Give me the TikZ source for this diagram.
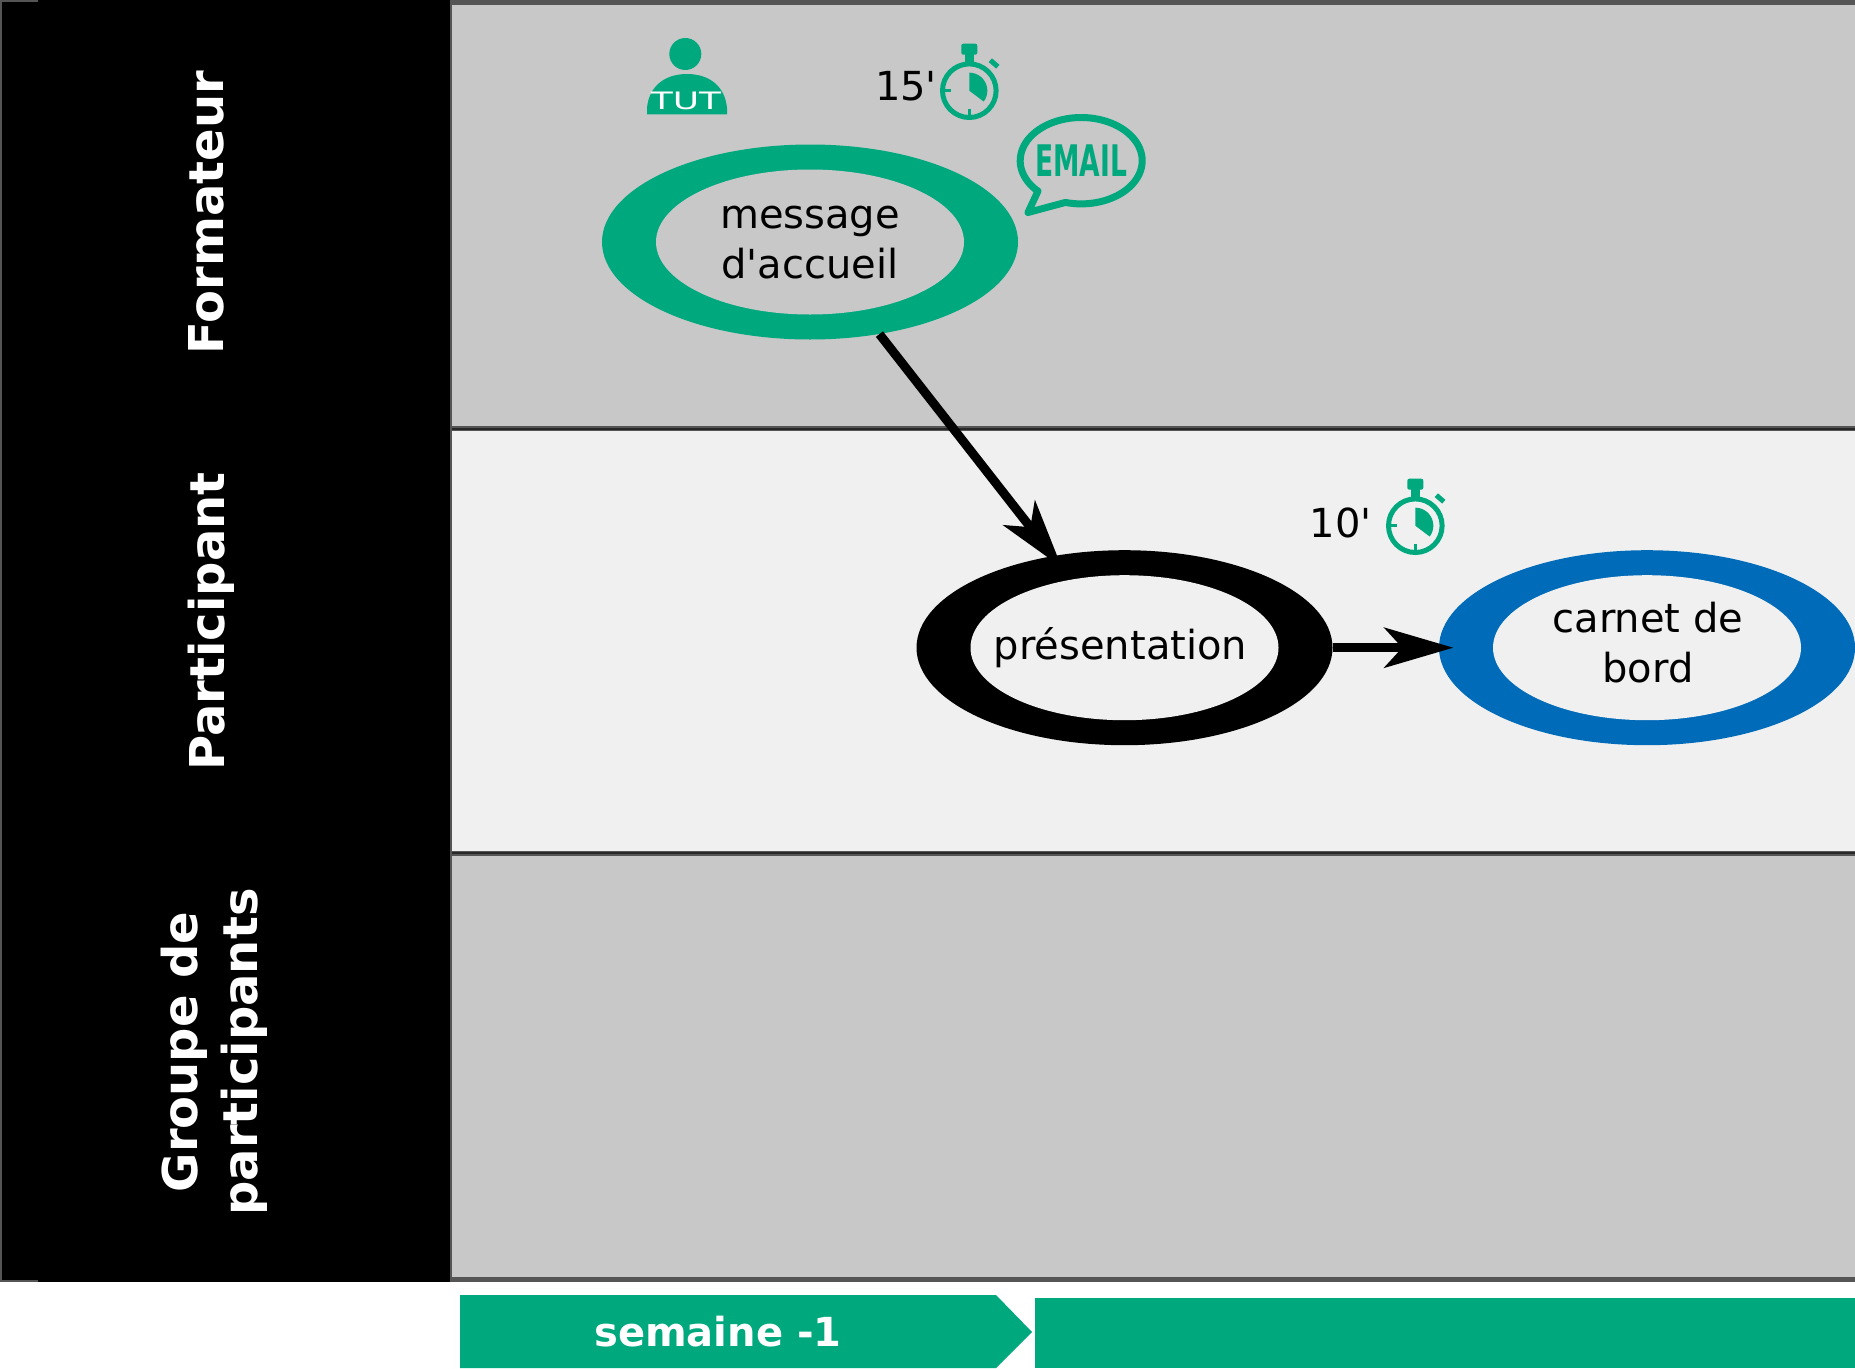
\documentclass[tikz,border=0pt]{standalone}
\usepackage{fontspec}
\setmainfont{DejaVu Sans}
\newfontfamily\plainquote{DejaVu Sans}
\usetikzlibrary{arrows.meta,shapes.geometric}
\definecolor{grn}{RGB}{0,168,126}
\definecolor{blu}{RGB}{0,107,185}
\definecolor{lanedark}{RGB}{200,200,200}
\definecolor{lanelight}{RGB}{240,240,240}
\definecolor{laneline}{RGB}{85,85,85}
\definecolor{lanecore}{RGB}{40,40,40}
\tikzset{
  lanerule/.style={draw=laneline,line width=5pt},
  lanecorerule/.style={draw=lanecore,line width=2pt},
  outerring/.style={ellipse,minimum width=416pt,minimum height=195pt,inner sep=0pt,draw=none},
  innerring/.style={ellipse,minimum width=308pt,minimum height=145pt,inner sep=0pt,draw=none},
  ringtext/.style={inner sep=0pt,align=center,font=\plainquote\fontsize{40}{50}\selectfont},
  sidelabel/.style={rotate=90,text=white,align=center,font=\fontsize{48}{60}\selectfont\bfseries},
  timelabel/.style={text=black,font=\plainquote\fontsize{40}{48}\selectfont},
  flow/.style={draw=black,-{Stealth[length=69pt,width=40pt,inset=18pt]}},
  stopwatch/.pic={
    \draw[grn,line width=5pt] (0,0) circle[radius=26.8pt];
    \fill[grn,rounded corners=2pt] (-8,-47) rectangle (8,-36);
    \fill[grn] (-4.5,-38) rectangle (4.5,-28);
    \draw[grn,line width=5pt] (21,-30.5) -- (28.5,-24);
    \draw[grn,line width=2.5pt] (-26,0) -- (-18,0);
    \draw[grn,line width=2.5pt] (0,26) -- (0,18);
    \fill[grn] (0,0) -- plot[domain=-90:37,samples=30,variable=\t] ({18*cos(\t)},{18*sin(\t)}) -- cycle;
  }
}
\begin{document}
\begin{tikzpicture}[x=1pt,y=-1pt]
\useasboundingbox (0,0) rectangle (1855,1368);
% lanes
\fill[white] (0,0) rectangle (1855,1368);
\fill[lanedark] (451,2) rectangle (1855,428.5);
\fill[lanelight] (451,428.5) rectangle (1855,853);
\fill[lanedark] (451,853) rectangle (1855,1279.5);
\draw[lanerule] (451,2.5) -- (1855,2.5);
\draw[lanerule] (451,428.5) -- (1855,428.5);
\draw[lanerule] (451,853) -- (1855,853);
\draw[lanerule] (451,1279.5) -- (1855,1279.5);
\draw[lanecorerule] (451,428.5) -- (1855,428.5);
\draw[lanecorerule] (451,853) -- (1855,853);
% side column
\path[fill=black,draw=laneline,line width=2pt] (1,1) rectangle (451,1281);
\fill[black] (38,0) rectangle (450,2);
\fill[black] (38,1280) rectangle (450,1282);
\node[sidelabel] (lf) at (206,212.5) {Formateur};
\node[sidelabel] (lp) at (211,621.5) {Participant};
\node[sidelabel] (lg) at (214,1052) {Groupe de\\participants};
% activities
\node[outerring,fill=grn] (msg) at (810,242) {};
\node[outerring,fill=black] (pres) at (1124.5,647.7) {};
\node[outerring,fill=blu] (car) at (1647,647.7) {};
\node[innerring,fill=lanedark] (msgi) at (msg) {};
\node[innerring,fill=lanelight] (presi) at (pres) {};
\node[innerring,fill=lanelight] (cari) at (car) {};
\node[ringtext] (msgt) at (810,243) {message\\d'accueil};
\node[ringtext] (prest) at (1120.5,648) {présentation};
\node[ringtext] (cart) at (1648,642.5) {carnet de\\bord};
% connectors
\draw[flow,line width=9pt,shorten >=-14.5pt] (msg.-53) -- (pres.128);
\draw[flow,line width=8.5pt,shorten >=-14.5pt] (pres.east) -- (car.west);
% tutor icon
\fill[grn] (685.3,54) circle[radius=16pt];
\fill[grn] (647,114.3) -- (647,108) .. controls (649,86) and (665,74) .. (687,74) .. controls (709,74) and (725,86) .. (727,108) -- (727,114.3) -- cycle;
\node[text=white,inner sep=0pt,xscale=1.5,transform shape,font=\fontsize{24}{24}\selectfont] (tut) at (686,100.5) {TUT};
% stopwatches
\pic at (969.3,90.7) {stopwatch};
\pic at (1415.3,525.7) {stopwatch};
\node[timelabel] (t15) at (906,86) {15'};
\node[timelabel] (t10) at (1340.5,523) {10'};
% email bubble
\draw[grn,line width=7pt,line join=round] plot[domain=138:465,samples=90,variable=\t] ({1081.2+61*cos(\t)},{160.7+43.2*sin(\t)}) -- (1028,212.5) -- (1038,191) -- (1035.9,189.6) -- cycle;
\node[text=grn,inner sep=0pt,xscale=0.61,transform shape,font=\fontsize{43.5}{44}\selectfont\bfseries] (eml) at (1081.3,160.2) {EMAIL};
% time bar
\fill[grn] (460,1295) -- (996,1295) -- (1032,1332) -- (996,1368) -- (460,1368) -- cycle;
\fill[grn] (1034.5,1298) rectangle (1855,1368);
\node[text=white,font=\fontsize{40}{48}\selectfont\bfseries] (sem) at (718,1332) {semaine -1};
\end{tikzpicture}
\end{document}
